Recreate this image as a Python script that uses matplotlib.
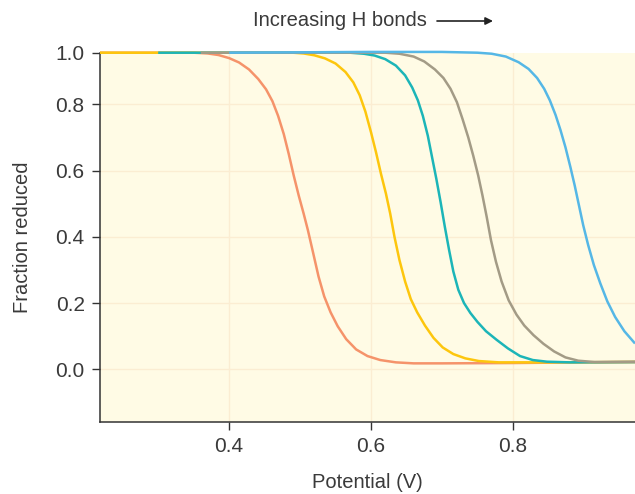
import numpy as np
import matplotlib
matplotlib.use("Agg")
import matplotlib.pyplot as plt

plt.rcParams['font.family'] = ['Liberation Sans', 'DejaVu Sans']

# Potential (V) and fraction reduced
orange_x = [0.218, 0.350, 0.370, 0.385, 0.400, 0.414, 0.428, 0.441, 0.452, 0.461, 0.469, 0.477, 0.484, 0.491, 0.498, 0.505, 0.511, 0.518, 0.526, 0.534, 0.543, 0.553, 0.565, 0.579, 0.595, 0.613, 0.635, 0.660, 0.700, 0.800, 0.900, 0.972]
orange_y = [1.000, 1.000, 0.997, 0.991, 0.979, 0.962, 0.935, 0.898, 0.858, 0.812, 0.765, 0.710, 0.650, 0.585, 0.525, 0.470, 0.420, 0.355, 0.280, 0.220, 0.172, 0.130, 0.091, 0.060, 0.040, 0.028, 0.021, 0.018, 0.018, 0.019, 0.021, 0.023]

yellow_x = [0.218, 0.490, 0.505, 0.520, 0.535, 0.550, 0.564, 0.575, 0.584, 0.592, 0.600, 0.607, 0.614, 0.621, 0.627, 0.633, 0.640, 0.648, 0.656, 0.665, 0.676, 0.688, 0.701, 0.716, 0.733, 0.752, 0.780, 0.850, 0.972]
yellow_y = [1.000, 1.000, 0.997, 0.990, 0.978, 0.958, 0.925, 0.885, 0.835, 0.778, 0.715, 0.655, 0.590, 0.530, 0.470, 0.400, 0.330, 0.265, 0.212, 0.172, 0.132, 0.095, 0.066, 0.046, 0.033, 0.025, 0.021, 0.021, 0.022]

teal_x = [0.300, 0.570, 0.590, 0.605, 0.620, 0.635, 0.648, 0.658, 0.666, 0.673, 0.680, 0.686, 0.692, 0.698, 0.704, 0.710, 0.716, 0.723, 0.731, 0.740, 0.750, 0.762, 0.777, 0.793, 0.810, 0.828, 0.848, 0.880, 0.972]
teal_y = [1.000, 1.000, 0.996, 0.989, 0.975, 0.950, 0.912, 0.865, 0.815, 0.765, 0.705, 0.640, 0.575, 0.505, 0.430, 0.360, 0.295, 0.240, 0.200, 0.170, 0.143, 0.115, 0.089, 0.063, 0.040, 0.028, 0.023, 0.021, 0.022]

gray_x = [0.360, 0.620, 0.640, 0.660, 0.675, 0.690, 0.702, 0.712, 0.721, 0.729, 0.737, 0.744, 0.751, 0.757, 0.763, 0.769, 0.776, 0.784, 0.794, 0.805, 0.816, 0.829, 0.843, 0.858, 0.874, 0.892, 0.915, 0.972]
gray_y = [1.000, 1.000, 0.996, 0.985, 0.966, 0.935, 0.902, 0.860, 0.808, 0.755, 0.700, 0.645, 0.585, 0.525, 0.460, 0.390, 0.325, 0.265, 0.208, 0.165, 0.132, 0.103, 0.077, 0.054, 0.036, 0.026, 0.022, 0.022]

blue_x = [0.400, 0.600, 0.700, 0.750, 0.770, 0.790, 0.808, 0.822, 0.834, 0.844, 0.852, 0.860, 0.867, 0.874, 0.881, 0.887, 0.893, 0.899, 0.906, 0.914, 0.923, 0.933, 0.944, 0.957, 0.972]
blue_y = [1.000, 1.003, 1.003, 1.000, 0.996, 0.985, 0.963, 0.937, 0.902, 0.860, 0.815, 0.768, 0.722, 0.670, 0.610, 0.555, 0.495, 0.435, 0.375, 0.315, 0.260, 0.205, 0.158, 0.115, 0.078]

series = [
    (orange_x, orange_y, '#F5936A'),
    (yellow_x, yellow_y, '#FDC60D'),
    (teal_x, teal_y, '#1CB5B8'),
    (gray_x, gray_y, '#A39B86'),
    (blue_x, blue_y, '#55B7E6'),
]

y_ticks = [0.0, 0.2, 0.4, 0.6, 0.8, 1.0]
x_ticks = [0.4, 0.6, 0.8]

K = 0.778
def fwd(y):
    y = np.asarray(y, dtype=float)
    return np.where(y <= 0.8, y, 0.8 + (y - 0.8) * K)
def inv(y):
    y = np.asarray(y, dtype=float)
    return np.where(y <= 0.8, y, 0.8 + (y - 0.8) / K)

TXT = '#3A3A3A'
fig = plt.figure(figsize=(6.35, 4.94), dpi=100)
ax = fig.add_axes([100/635, 72/494, 535/635, (422-52.7)/494])
ax.set_facecolor('#FFFBE5')
ax.set_yscale('function', functions=(fwd, inv))

grid_c = '#FBEDD2'
for xt in x_ticks:
    ax.axvline(xt, color=grid_c, lw=1, zorder=0)
for yt in y_ticks[:-1]:
    ax.axhline(yt, color=grid_c, lw=1, zorder=0)

for xs, ys, c in series:
    ax.plot(xs, ys, color=c, lw=1.8, clip_on=False, zorder=3,
            solid_capstyle='butt', solid_joinstyle='round')

ax.set_xlim(0.218, 0.972)
ax.set_ylim(-0.159, 1.0)
ax.set_xticks(x_ticks)
ax.set_xticklabels([f'{v:.1f}' for v in x_ticks])
ax.set_yticks(y_ticks)
ax.set_yticklabels([f'{v:.1f}' for v in y_ticks])
ax.minorticks_off()

for s in ['top', 'right']:
    ax.spines[s].set_visible(False)
for s in ['left', 'bottom']:
    ax.spines[s].set_color('#333333')
    ax.spines[s].set_linewidth(1.1)

ax.tick_params(axis='both', direction='out', length=6, width=1, color='#333333',
               labelsize=15, labelcolor=TXT, pad=5)

ax.set_xlabel('Potential (V)', fontsize=14.5, color=TXT)
ax.set_ylabel('Fraction reduced', fontsize=14.5, color=TXT)
ax.yaxis.set_label_coords(-0.128, 0.5)
ax.xaxis.set_label_coords(0.5, -0.138)

fig.text(340/635, 1 - 20/494, 'Increasing H bonds', fontsize=14.5, color=TXT,
         ha='center', va='center')
ax.annotate('', xy=(493/635, 1 - 21/494), xytext=(437/635, 1 - 21/494),
            xycoords='figure fraction', textcoords='figure fraction',
            arrowprops=dict(arrowstyle='-|>', color='#222222', lw=1.2,
                            mutation_scale=11, shrinkA=0, shrinkB=0))

fig.savefig('out.png', dpi=100, facecolor='white')
